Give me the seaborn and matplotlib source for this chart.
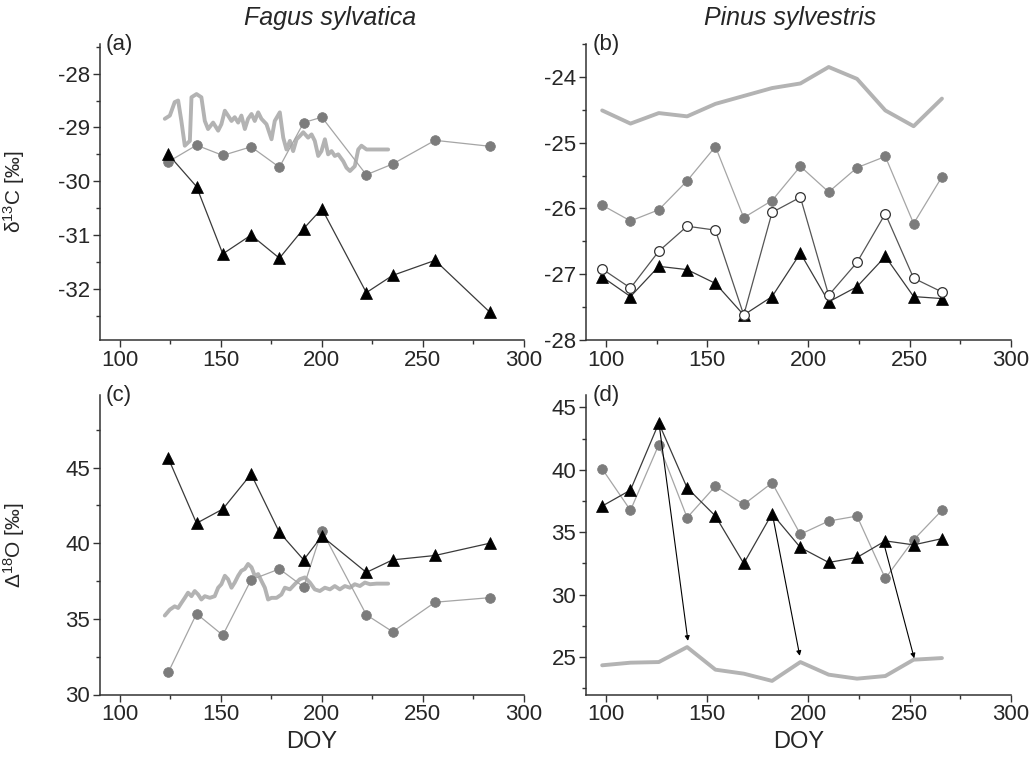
import numpy as np
import pandas as pd
import matplotlib
matplotlib.use("Agg")
import matplotlib.pyplot as plt
import seaborn as sns
from matplotlib.ticker import MultipleLocator

# ---- (a) Fagus sylvatica, d13C ----
doy_fagus = [124, 138, 151, 165, 179, 191, 200, 222, 235, 256, 283]
a_triangles = [-29.50, -30.10, -31.35, -31.00, -31.43, -30.88, -30.51, -32.07, -31.75, -31.47, -32.43]
a_circles = [-29.64, -29.33, -29.52, -29.36, -29.74, -28.91, -28.81, -29.88, -29.68, -29.24, -29.35]
a_line_doy = [122.3, 124.8, 127.2, 128.9, 130.5, 132.2, 134.7, 135.5, 138.0, 140.4, 142.1, 143.7,
              146.2, 148.7, 150.3, 152.0, 153.6, 155.3, 156.9, 158.6, 160.2, 161.9, 163.5, 165.2,
              166.8, 168.5, 170.1, 172.6, 175.1, 176.7, 179.2, 180.9, 182.5, 184.2, 185.8, 187.5,
              189.1, 190.8, 193.2, 194.9, 196.5, 198.2, 199.8, 201.5, 203.1, 204.8, 206.4, 208.1,
              210.6, 212.2, 213.9, 216.3, 218.0, 219.6, 222.1, 227.1, 232.8]
a_line = [-28.84, -28.78, -28.53, -28.50, -28.88, -29.34, -29.25, -28.44, -28.38, -28.44, -28.88, -29.03,
          -28.91, -29.06, -28.94, -28.69, -28.78, -28.88, -28.81, -28.91, -28.78, -29.03, -28.84, -28.75,
          -28.88, -28.72, -28.84, -28.94, -29.22, -28.88, -28.72, -29.19, -29.41, -29.25, -29.44, -29.22,
          -29.16, -29.09, -29.19, -29.13, -29.25, -29.53, -29.44, -29.22, -29.50, -29.44, -29.53, -29.50,
          -29.63, -29.75, -29.81, -29.72, -29.41, -29.34, -29.41, -29.41, -29.41]

# ---- (b) Pinus sylvestris, d13C ----
doy_pinus = [98, 112, 126, 140, 154, 168, 182, 196, 210, 224, 238, 252, 266]
b_line = [-24.51, -24.71, -24.55, -24.60, -24.41, -24.29, -24.17, -24.10, -23.85, -24.03, -24.51, -24.75, -24.33]
b_circles = [-25.95, -26.19, -26.02, -25.58, -25.06, -26.14, -25.88, -25.36, -25.75, -25.38, -25.21, -26.23, -25.52]
b_open = [-26.92, -27.21, -26.65, -26.27, -26.33, -27.62, -26.06, -25.83, -27.32, -26.82, -26.08, -27.06, -27.27]
b_triangles = [-27.04, -27.34, -26.88, -26.93, -27.14, -27.62, -27.34, -26.68, -27.42, -27.19, -26.73, -27.34, -27.37]

# ---- (c) Fagus sylvatica, D18O ----
c_triangles = [45.63, 41.32, 42.26, 44.57, 40.72, 38.90, 40.47, 38.07, 38.90, 39.19, 40.00]
c_circles = [31.46, 35.34, 33.92, 37.58, 38.30, 37.11, 40.83, 35.27, 34.15, 36.10, 36.40]
c_line_doy = [122.3, 124.8, 127.2, 128.9, 130.5, 132.2, 133.8, 135.5, 137.1, 138.8, 140.4, 142.1,
              144.6, 147.0, 148.7, 150.3, 152.0, 153.6, 155.3, 156.9, 158.6, 160.2, 161.9, 163.5,
              165.2, 166.8, 168.5, 170.1, 171.8, 173.4, 175.1, 177.6, 180.0, 181.7, 184.2, 186.6,
              189.1, 191.6, 194.1, 196.5, 199.0, 201.5, 204.0, 206.4, 208.9, 211.4, 213.9, 216.3,
              218.8, 221.3, 223.8, 227.1, 232.8]
c_line = [35.22, 35.61, 35.83, 35.72, 36.05, 36.39, 36.73, 36.50, 36.84, 36.61, 36.28, 36.50,
          36.39, 36.50, 37.06, 37.29, 37.85, 37.62, 37.06, 37.40, 37.85, 38.18, 38.30, 38.63,
          38.41, 37.85, 37.96, 37.51, 37.06, 36.28, 36.39, 36.39, 36.61, 37.06, 36.95, 37.29,
          37.62, 37.74, 37.40, 36.95, 36.84, 37.06, 36.95, 37.17, 36.95, 37.17, 37.06, 37.29,
          37.17, 37.40, 37.29, 37.33, 37.33]

# ---- (d) Pinus sylvestris, D18O ----
d_circles = [40.08, 36.76, 42.02, 36.17, 38.70, 37.23, 38.96, 34.84, 35.90, 36.30, 31.30, 34.39, 36.76]
d_triangles = [37.10, 38.38, 43.75, 38.56, 36.30, 32.50, 36.49, 33.78, 32.58, 32.98, 34.31, 33.99, 34.49]
d_line = [24.34, 24.55, 24.60, 25.80, 23.99, 23.67, 23.09, 24.60, 23.59, 23.27, 23.48, 24.79, 24.92]
arrow_start_doy = [126.4, 182.5, 237.8]
arrow_start_val = [43.35, 36.17, 33.78]
arrow_end_doy = [140.4, 195.7, 252.3]
arrow_end_val = [26.3, 25.1, 24.9]

sns.set_style("ticks")
plt.rcParams["font.family"] = ["Liberation Sans", "DejaVu Sans"]
plt.rcParams["mathtext.fontset"] = "custom"
plt.rcParams["mathtext.rm"] = "Liberation Sans"
plt.rcParams["mathtext.it"] = "Liberation Sans:italic"
plt.rcParams["axes.unicode_minus"] = False

GRAY_LINE = "#b3b3b3"
CIRC_FILL = "#7c7c7c"
CIRC_LINE = "#a5a5a5"
TRI_LINE = "#3a3a3a"
AX_COL = "#333333"


def draw(ax, x, y, kind):
    df = pd.DataFrame({"DOY": x, "val": y})
    if kind == "thick":
        sns.lineplot(data=df, x="DOY", y="val", ax=ax, color=GRAY_LINE, lw=2.8,
                     estimator=None, sort=False, zorder=2)
    elif kind == "circle":
        sns.lineplot(data=df, x="DOY", y="val", ax=ax, color=CIRC_LINE, lw=0.9,
                     marker="o", markersize=7, markerfacecolor=CIRC_FILL,
                     markeredgecolor=CIRC_FILL, markeredgewidth=0.5,
                     estimator=None, sort=False, zorder=3)
    elif kind == "open":
        sns.lineplot(data=df, x="DOY", y="val", ax=ax, color="#555555", lw=0.9,
                     marker="o", markersize=7, markerfacecolor="white",
                     markeredgecolor="#333333", markeredgewidth=0.9,
                     estimator=None, sort=False, zorder=5)
    elif kind == "triangle":
        sns.lineplot(data=df, x="DOY", y="val", ax=ax, color=TRI_LINE, lw=0.9,
                     marker="^", markersize=8, markerfacecolor="black",
                     markeredgecolor="black", markeredgewidth=0.5,
                     estimator=None, sort=False, zorder=4)


fig = plt.figure(figsize=(10.34, 7.61), dpi=100)
W, H = 1034, 761


def make_axes(left_px, right_px, top_px, bottom_px):
    return fig.add_axes([left_px / W, 1 - bottom_px / H,
                         (right_px - left_px) / W, (bottom_px - top_px) / H])


ax_a = make_axes(99.5, 524, 44, 340)
ax_b = make_axes(586, 1010.7, 44, 340)
ax_c = make_axes(99.5, 524, 395, 694.5)
ax_d = make_axes(586, 1010.7, 395, 694.5)

draw(ax_a, a_line_doy, a_line, "thick")
draw(ax_a, doy_fagus, a_circles, "circle")
draw(ax_a, doy_fagus, a_triangles, "triangle")

draw(ax_b, doy_pinus, b_line, "thick")
draw(ax_b, doy_pinus, b_circles, "circle")
draw(ax_b, doy_pinus, b_triangles, "triangle")
draw(ax_b, doy_pinus, b_open, "open")

draw(ax_c, c_line_doy, c_line, "thick")
draw(ax_c, doy_fagus, c_circles, "circle")
draw(ax_c, doy_fagus, c_triangles, "triangle")

draw(ax_d, doy_pinus, d_line, "thick")
draw(ax_d, doy_pinus, d_circles, "circle")
draw(ax_d, doy_pinus, d_triangles, "triangle")
for x0, y0, x1, y1 in zip(arrow_start_doy, arrow_start_val, arrow_end_doy, arrow_end_val):
    ax_d.annotate("", xy=(x1, y1), xytext=(x0, y0),
                  arrowprops=dict(arrowstyle="-|>", color="black", lw=0.8,
                                  mutation_scale=7, shrinkA=0, shrinkB=0), zorder=6)

ax_a.set_ylim(-32.95, -27.45)
ax_a.yaxis.set_major_locator(MultipleLocator(1))
ax_a.yaxis.set_minor_locator(MultipleLocator(0.5))
ax_b.set_ylim(-28, -23.5)
ax_b.yaxis.set_major_locator(MultipleLocator(1))
ax_b.yaxis.set_minor_locator(MultipleLocator(0.5))
ax_c.set_ylim(30, 49.8)
ax_c.yaxis.set_major_locator(MultipleLocator(5))
ax_c.yaxis.set_minor_locator(MultipleLocator(2.5))
ax_d.set_ylim(22, 46)
ax_d.yaxis.set_major_locator(MultipleLocator(5))
ax_d.yaxis.set_minor_locator(MultipleLocator(2.5))

for ax, lab in zip([ax_a, ax_b, ax_c, ax_d], ["(a)", "(b)", "(c)", "(d)"]):
    ax.set_xlim(90, 300)
    ax.xaxis.set_major_locator(MultipleLocator(50))
    ax.xaxis.set_minor_locator(MultipleLocator(25))
    sns.despine(ax=ax)
    for s in ["left", "bottom"]:
        ax.spines[s].set_color(AX_COL)
        ax.spines[s].set_linewidth(1.1)
    ax.tick_params(which="major", direction="out", length=5, width=1, color=AX_COL,
                   labelsize=16, pad=2)
    ax.tick_params(which="minor", direction="out", length=3, width=1, color=AX_COL)
    ax.set_xlabel("")
    ax.set_ylabel("")
    ax.text(0.015, 1.035, lab, transform=ax.transAxes, fontsize=16, va="top", ha="left")

ax_a.set_ylabel("δ$^{13}$C [‰]", fontsize=15)
ax_c.set_ylabel("Δ$^{18}$O [‰]", fontsize=15)
ax_a.yaxis.set_label_coords(-0.17, 0.5)
ax_c.yaxis.set_label_coords(-0.17, 0.5)
ax_c.set_xlabel("DOY", fontsize=17, labelpad=4)
ax_d.set_xlabel("DOY", fontsize=17, labelpad=4)

fig.text(330 / W, 1 - 18 / H, "Fagus sylvatica", fontsize=18, style="italic",
         ha="center", va="center")
fig.text(790 / W, 1 - 18 / H, "Pinus sylvestris", fontsize=18, style="italic",
         ha="center", va="center")

fig.savefig("out.png", dpi=100)
